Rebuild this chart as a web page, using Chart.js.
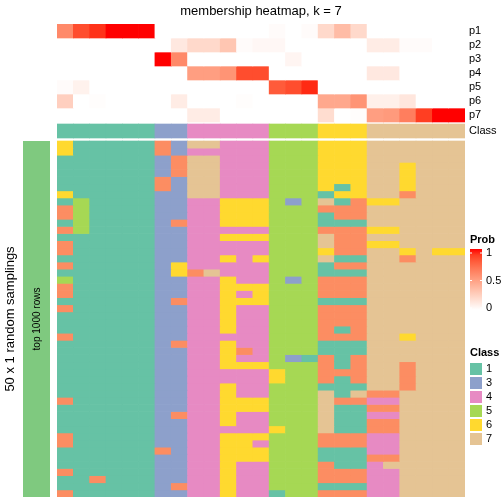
<!DOCTYPE html>
<html>
<head>
<meta charset="utf-8">
<script src="https://cdn.jsdelivr.net/npm/chart.js@4.4.0/dist/chart.umd.min.js"></script>
<style>
  html, body { margin: 0; padding: 0; background: #fff; }
</style>
</head>
<body>
<canvas id="membership" width="504" height="504"></canvas>
<script>
// columns of the heatmap (samples)
var columns = ['s1','s2','s3','s4','s5','s6','s7','s8','s9','s10','s11','s12','s13',
               's14','s15','s16','s17','s18','s19','s20','s21','s22','s23','s24','s25'];

// membership probabilities, one array per class row
var probNames = ['p1', 'p2', 'p3', 'p4', 'p5', 'p6', 'p7'];
var probP1 = [0.6,0.85,0.93,1,1,1, 0,0, 0,0,0,0,0, 0.02,0,0.02, 0.2,0.35,0.2, 0,0,0,0,0,0];
var probP2 = [0,0,0,0,0,0, 0,0.12, 0.2,0.2,0.3,0.02,0.04, 0.04,0,0, 0,0,0, 0.1,0.1,0.02,0.02,0,0];
var probP3 = [0,0,0,0,0,0, 1,0.6, 0,0,0,0,0, 0,0.05,0, 0,0,0, 0,0,0,0,0,0];
var probP4 = [0,0,0,0,0,0, 0,0, 0.5,0.5,0.55,0.85,0.85, 0,0,0, 0,0,0, 0.12,0.12,0,0,0,0];
var probP5 = [0.02,0.07,0,0,0,0, 0,0, 0,0,0,0,0, 0.8,0.85,0.95, 0,0,0, 0,0,0,0,0,0];
var probP6 = [0.25,0,0.01,0,0,0, 0,0.1, 0,0,0,0.01,0, 0,0,0, 0.45,0.45,0.55, 0.08,0.08,0.13,0,0,0];
var probP7 = [0,0,0,0,0,0, 0,0, 0.1,0.1,0,0,0, 0,0,0, 0.18,0,0.01, 0.5,0.52,0.65,0.9,1,1];
var probRows = [probP1, probP2, probP3, probP4, probP5, probP6, probP7];

// consensus class of each column
var classRow = [1,1,1,1,1,1, 3,3, 4,4,4,4,4, 5,5,5, 6,6,6, 7,7,7,7,7,7];

// class assigned in each of the 50 random samplings (one string per row, one digit per column)
var samplings = [
  '6111112377444555666777777',
  '6111112344444555666777777',
  '1111113277444555666777777',
  '1111113277444555666776777',
  '1111113277444555666776777',
  '1111112377444555666776777',
  '1111112377444555616776777',
  '6111113377444555166772777',
  '1511113344666535712667777',
  '2511113344666555222777777',
  '2511113344666555122777777',
  '1511113244666555111777777',
  '2511113344444555222667777',
  '1111113344666555722777777',
  '2111113344444555722667777',
  '2111113344444555622776766',
  '1111113344646555711772777',
  '2111113644444555122777777',
  '1111113627444555111777777',
  '5111113344644535222777777',
  '2111113344666555222777777',
  '2111113344646555222777777',
  '1111113244666555111777777',
  '2111113344644555222777777',
  '1111113344644555222777777',
  '1111113344644555222777777',
  '1111113344644555212777777',
  '2111113344444555222776777',
  '1111113244644555111777777',
  '1111113344624555111777777',
  '1111113344644531212777777',
  '1111113344666555212772777',
  '1111113344444655222772777',
  '1111113344444655212772777',
  '1111113344644555111772777',
  '1111113344644555717227777',
  '2111113344666555722447777',
  '1111113344666555711227777',
  '1111113244644555711447777',
  '1111113344644555711227777',
  '1111113344444655711227777',
  '2111113344666555222447777',
  '2111113344664555222447777',
  '1111112344666555111447777',
  '1111113344666555111227777',
  '1111113344644555211477777',
  '2111113344644555222447777',
  '1121113344644555222447777',
  '1111113244644555111447777',
  '2111113344644155222447777'
];

var classLevels = ['1', '3', '4', '5', '6', '7'];
var probTicks = [1, 0.5, 0];

var classColors = {1: '#66C2A5', 2: '#FC8D62', 3: '#8DA0CB', 4: '#E78AC3',
                   5: '#A6D854', 6: '#FFD92F', 7: '#E5C494'};

// white -> red, interpolated in LAB like colorRamp2
function probColor(v) {
  var L = 100 + (53.24 - 100) * v, a = 80.09 * v, b = 67.20 * v;
  var fy = (L + 16) / 116, fx = fy + a / 500, fz = fy - b / 200;
  function finv(t) { return t > 6 / 29 ? t * t * t : 3 * (6 / 29) * (6 / 29) * (t - 4 / 29); }
  var X = 0.95047 * finv(fx), Y = finv(fy), Z = 1.08883 * finv(fz);
  var rgb = [3.2406 * X - 1.5372 * Y - 0.4986 * Z,
             -0.9689 * X + 1.8758 * Y + 0.0415 * Z,
             0.0557 * X - 0.2040 * Y + 1.0570 * Z];
  rgb = rgb.map(function (c) {
    c = c <= 0.0031308 ? 12.92 * c : 1.055 * Math.pow(c, 1 / 2.4) - 0.055;
    return Math.round(Math.max(0, Math.min(1, c)) * 255);
  });
  return 'rgb(' + rgb.join(',') + ')';
}

// row heights in units of one sampling row
var annoH = 14 / 7.12;
var gapA = 2 / 7.12;
var gapB = 3 / 7.12;

var datasets = [];
var rowCenters = [];
var acc = 0;
function addRow(label, h, colors) {
  datasets.push({
    label: label,
    data: columns.map(function () { return h; }),
    backgroundColor: colors
  });
  rowCenters.push({label: label, mid: acc + h / 2, top: acc, bottom: acc + h});
  acc += h;
}
probRows.forEach(function (vals, i) { addRow(probNames[i], annoH, vals.map(probColor)); });
addRow('gapA', gapA, 'rgba(0,0,0,0)');
addRow('Class', annoH, classRow.map(function (c) { return classColors[c]; }));
addRow('gapB', gapB, 'rgba(0,0,0,0)');
var mainTop = acc;
samplings.forEach(function (row, i) {
  addRow('r' + (i + 1), 1, row.split('').map(function (c) { return classColors[c]; }));
});
var mainBottom = acc;

var decorations = {
  id: 'decorations',
  afterDraw: function (chart) {
    var ctx = chart.ctx, ys = chart.scales.y, area = chart.chartArea;
    ctx.save();
    ctx.fillStyle = '#000';
    ctx.textBaseline = 'middle';

    ctx.font = '13px "Liberation Sans", Arial, sans-serif';
    ctx.textAlign = 'center';
    ctx.fillText('membership heatmap, k = 7', (area.left + area.right) / 2, 11);

    ctx.font = '11px "Liberation Sans", Arial, sans-serif';
    ctx.textAlign = 'left';
    rowCenters.forEach(function (r) {
      if (probNames.indexOf(r.label) >= 0 || r.label === 'Class') {
        ctx.fillText(r.label, area.right + 4, ys.getPixelForValue(r.mid));
      }
    });

    // left annotation
    var y0 = ys.getPixelForValue(mainTop), y1 = ys.getPixelForValue(mainBottom);
    ctx.fillStyle = '#7FC97F';
    ctx.fillRect(23, y0, 27, y1 - y0);
    ctx.fillStyle = '#000';
    ctx.save();
    ctx.translate(37, (y0 + y1) / 2);
    ctx.rotate(-Math.PI / 2);
    ctx.textAlign = 'center';
    ctx.font = '10px "Liberation Sans", Arial, sans-serif';
    ctx.fillText('top 1000 rows', 0, 0);
    ctx.restore();
    ctx.save();
    ctx.translate(10, (y0 + y1) / 2);
    ctx.rotate(-Math.PI / 2);
    ctx.textAlign = 'center';
    ctx.font = '13px "Liberation Sans", Arial, sans-serif';
    ctx.fillText('50 x 1 random samplings', 0, 0);
    ctx.restore();

    // Prob legend
    var lx = 470;
    ctx.textAlign = 'left';
    ctx.font = 'bold 11px "Liberation Sans", Arial, sans-serif';
    ctx.fillText('Prob', lx, 240);
    var gTop = 249, gBot = 310;
    var grad = ctx.createLinearGradient(0, gTop, 0, gBot);
    for (var s = 0; s <= 10; s++) grad.addColorStop(s / 10, probColor(1 - s / 10));
    ctx.fillStyle = grad;
    ctx.fillRect(lx, gTop, 12, gBot - gTop);
    ctx.font = '11px "Liberation Sans", Arial, sans-serif';
    probTicks.forEach(function (t) {
      var ty = 308 - t * 55;
      ctx.strokeStyle = '#fff';
      ctx.lineWidth = 1;
      ctx.beginPath();
      ctx.moveTo(lx, ty); ctx.lineTo(lx + 2, ty);
      ctx.moveTo(lx + 10, ty); ctx.lineTo(lx + 12, ty);
      ctx.stroke();
      ctx.fillStyle = '#000';
      ctx.fillText(String(t), lx + 16, ty);
    });

    // Class legend
    ctx.font = 'bold 11px "Liberation Sans", Arial, sans-serif';
    ctx.fillText('Class', lx, 353);
    ctx.font = '11px "Liberation Sans", Arial, sans-serif';
    classLevels.forEach(function (c, i) {
      var cy = 369 + i * 14;
      ctx.fillStyle = classColors[c];
      ctx.fillRect(lx, cy - 6, 12, 12);
      ctx.fillStyle = '#000';
      ctx.fillText(c, lx + 16, cy);
    });
    ctx.restore();
  }
};

new Chart(document.getElementById('membership').getContext('2d'), {
  type: 'bar',
  data: { labels: columns, datasets: datasets },
  options: {
    responsive: false,
    animation: false,
    layout: { padding: { left: 57, right: 39, top: 24, bottom: 7 } },
    datasets: { bar: { barPercentage: 1, categoryPercentage: 1, borderWidth: 0 } },
    scales: {
      x: { stacked: true, display: false },
      y: { stacked: true, display: false, reverse: true, min: 0, max: mainBottom }
    },
    plugins: { legend: { display: false }, tooltip: { enabled: false }, title: { display: false } }
  },
  plugins: [decorations]
});
</script>
</body>
</html>
